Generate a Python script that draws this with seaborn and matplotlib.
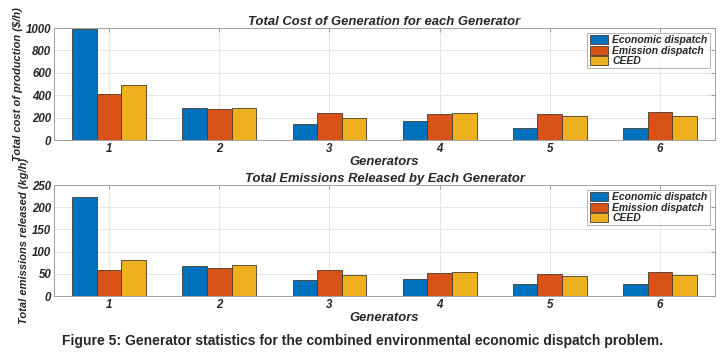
import pandas as pd
import matplotlib.pyplot as plt
import seaborn as sns

generators = ['1', '2', '3', '4', '5', '6']
methods = ['Economic dispatch', 'Emission dispatch', 'CEED']

cost_economic = [991, 289, 140, 167, 110, 110]
cost_emission = [411, 277, 244, 235, 232, 253]
cost_ceed = [491, 289, 199, 241, 211, 214]

emis_economic = [223, 67, 37, 39, 28, 28]
emis_emission = [59, 64, 58, 52, 50, 55]
emis_ceed = [80, 69, 47, 55, 46, 47]

colors = ['#0072BD', '#D95319', '#EDB120']


def long_table(a, b, c):
    rows = []
    for vals, m in zip([a, b, c], methods):
        for g, v in zip(generators, vals):
            rows.append({'gen': g, 'method': m, 'value': v})
    return pd.DataFrame(rows)


cost_df = long_table(cost_economic, cost_emission, cost_ceed)
emis_df = long_table(emis_economic, emis_emission, emis_ceed)

sns.set_style('white')
plt.rcParams['font.family'] = ['Liberation Sans', 'DejaVu Sans']

fig = plt.figure(figsize=(7.26, 3.56), dpi=100)
ax1 = fig.add_axes([0.0744, 0.6067, 0.9105, 0.3146])
ax2 = fig.add_axes([0.0744, 0.1685, 0.9105, 0.3118])

fi = dict(fontweight='bold', fontstyle='italic')

for ax, df, title, ylab, ymax, ticks in [
    (ax1, cost_df, 'Total Cost of Generation for each Generator',
     'Total cost of production (\\$/h)', 1000, [0, 200, 400, 600, 800, 1000]),
    (ax2, emis_df, 'Total Emissions Released by Each Generator',
     'Total emissions released (kg/h)', 250, [0, 50, 100, 150, 200, 250]),
]:
    sns.barplot(data=df, x='gen', y='value', hue='method', palette=colors,
                width=0.67, gap=0, saturation=1, edgecolor='#4a3a2a',
                linewidth=0.6, ax=ax, zorder=3)
    ax.set_ylim(0, ymax)
    ax.set_xlim(-0.5, 5.5)
    ax.set_yticks(ticks)
    ax.set_yticklabels([str(t) for t in ticks], fontsize=8.3, **fi)
    ax.set_xticklabels(generators, fontsize=8.3, **fi)
    ax.grid(True, color='#e6e6e6', linewidth=0.7, zorder=0)
    ax.set_axisbelow(True)
    for s in ax.spines.values():
        s.set_color('#a0a0a0')
        s.set_linewidth(0.7)
    ax.tick_params(axis='both', direction='in', length=3, color='#a0a0a0',
                   right=True, top=True, pad=2)
    ax.set_title(title, fontsize=9.4, pad=2, **fi)
    ax.set_xlabel('Generators', fontsize=9.4, labelpad=1, **fi)
    ax.set_ylabel(ylab, fontsize=8, labelpad=2, **fi)
    leg = ax.legend(loc='upper right', fontsize=7.5, frameon=True, fancybox=False,
                    borderpad=0.2, handlelength=1.8, handleheight=0.9,
                    handletextpad=0.4, labelspacing=0.05, borderaxespad=0.5,
                    edgecolor='#a0a0a0', title=None)
    for t in leg.get_texts():
        t.set_fontweight('bold')
        t.set_fontstyle('italic')
    leg.get_frame().set_linewidth(0.7)

fig.text(0.5, 0.03, 'Figure 5: Generator statistics for the combined environmental economic dispatch problem.',
         ha='center', fontsize=10, fontweight='bold')

fig.savefig('out.png', dpi=100)
